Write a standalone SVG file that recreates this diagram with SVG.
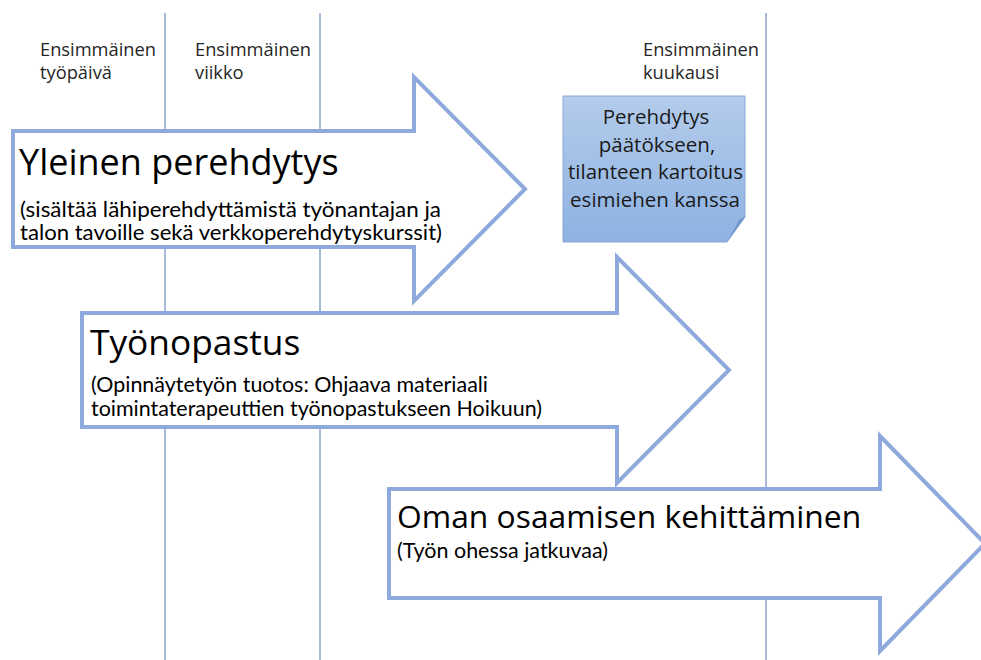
<svg xmlns="http://www.w3.org/2000/svg" width="981" height="660" viewBox="0 0 981 660">
<defs>
<linearGradient id="noteGrad" x1="0" y1="0" x2="0" y2="1">
<stop offset="0" stop-color="#B4CCEB"/>
<stop offset="1" stop-color="#8DB2E2"/>
</linearGradient>
<style>
.vline{stroke:#6F8DC2;stroke-width:1.2;fill:none}
.arrow{fill:#FFFFFF;stroke:#8EA9DB;stroke-width:4;stroke-linejoin:miter;stroke-miterlimit:10}
text{font-family:"Open Sans","DejaVu Sans",sans-serif;fill:#000000}
.lbl{font-size:18.3px;fill:#262626}
.title{font-size:36px}
.sub{font-family:Lato,"Open Sans",sans-serif;font-size:20.5px}
.note{font-size:20.5px;fill:#1A1A1A;text-anchor:middle}
</style>
</defs>
<rect x="0" y="0" width="981" height="660" fill="#FFFFFF"/>
<g id="timeline">
<line class="vline" x1="165" y1="13" x2="165" y2="660"/>
<line class="vline" x1="320" y1="13" x2="320" y2="660"/>
<line class="vline" x1="766" y1="13" x2="766" y2="660"/>
<text class="lbl"><tspan x="40" y="56">Ensimmäinen</tspan><tspan x="40" y="79">työpäivä</tspan></text>
<text class="lbl"><tspan x="195" y="56">Ensimmäinen</tspan><tspan x="195" y="79">viikko</tspan></text>
<text class="lbl"><tspan x="643" y="56">Ensimmäinen</tspan><tspan x="643" y="79">kuukausi</tspan></text>
</g>
<g id="arrow-yleinen">
<polygon class="arrow" points="13,131 414,131 414,77 525,189 414,301 414,247 13,247"/>
<text class="title" x="19" y="175">Yleinen perehdytys</text>
<text class="sub" x="20" y="217" textLength="421" lengthAdjust="spacingAndGlyphs">(sisältää lähiperehdyttämistä työnantajan ja</text>
<text class="sub" x="20" y="240" textLength="422" lengthAdjust="spacingAndGlyphs">talon tavoille sekä verkkoperehdytyskurssit)</text>
</g>
<g id="note">
<path d="M563,96 L745,96 L745,217 L727,242 L563,242 Z" fill="url(#noteGrad)" stroke="#8AA8D2" stroke-width="1"/>
<path d="M745,217 Q738,219 737,224 L727,242 Z" fill="#6F95C9"/>
<text class="note"><tspan x="656" y="124">Perehdytys</tspan><tspan x="657" y="152">päätökseen,</tspan><tspan x="655.5" y="179">tilanteen kartoitus</tspan><tspan x="655" y="207">esimiehen kanssa</tspan></text>
</g>
<g id="arrow-tyonopastus">
<polygon class="arrow" points="82,313 617,313 617,257 729,370 617,483 617,427 82,427"/>
<text class="title" x="90" y="355" style="font-size:35.3px">Työnopastus</text>
<text class="sub" x="91" y="392" textLength="397" lengthAdjust="spacingAndGlyphs">(Opinnäytetyön tuotos: Ohjaava materiaali</text>
<text class="sub" x="91" y="416" textLength="451" lengthAdjust="spacingAndGlyphs">toimintaterapeuttien työnopastukseen Hoikuun)</text>
</g>
<g id="arrow-oman">
<polygon class="arrow" points="389,489 880,489 880,436 985,543.5 880,651 880,598 389,598"/>
<text class="title" x="397" y="528" style="font-size:31.8px">Oman osaamisen kehittäminen</text>
<text class="sub" x="397" y="558" textLength="211" lengthAdjust="spacingAndGlyphs">(Työn ohessa jatkuvaa)</text>
</g>
<g id="connectors"></g>
</svg>
